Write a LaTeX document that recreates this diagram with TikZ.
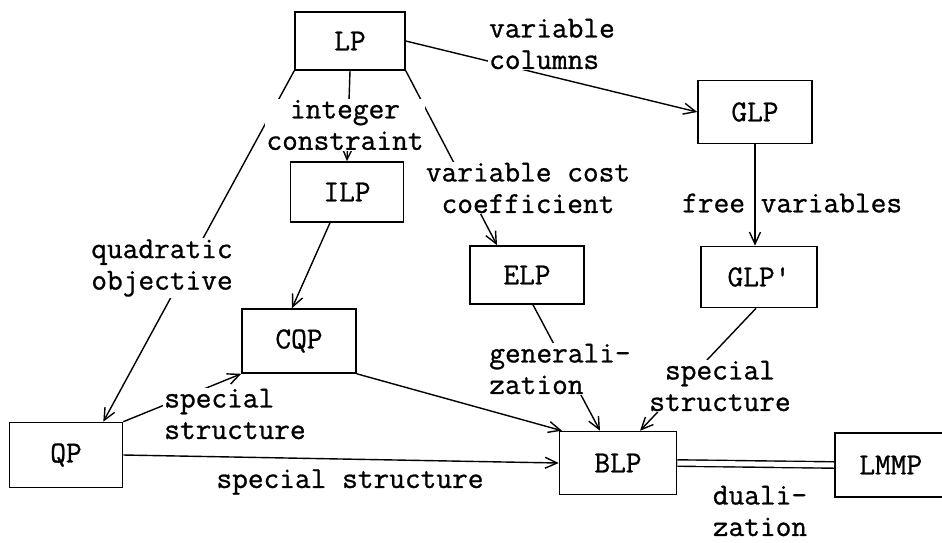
\documentclass[tikz,border=0pt]{standalone}
\usepackage{fontspec}
\newfontfamily\twfont{Latin Modern Mono}[RawFeature={embolden=0.9}]
\usetikzlibrary{arrows.meta}
\begin{document}
\begin{tikzpicture}[x=1pt,y=-1pt,
  every node/.style={font=\twfont\fontsize{30.5}{31.5}\selectfont},
  box/.style={draw,line width=1.6pt,minimum width=114pt,minimum height=61pt,inner sep=0pt},
  lbl/.style={fill=white,inner sep=1pt},
  con/.style={line width=1.4pt},
  arr/.style={con,-{Straight Barb[length=12pt,width=11pt,line width=1.4pt]}}]
\useasboundingbox (0,0) rectangle (942,542);
% boxes
\node[box,minimum width=110pt,minimum height=58pt] (LP) at (350,41) {LP};
\node[box,minimum height=63pt] (GLP) at (755,112) {GLP};
\node[box,minimum width=113pt,minimum height=60pt] (ILP) at (347,192) {ILP};
\node[box,minimum height=58pt] (ELP) at (527,275) {ELP};
\node[box,minimum width=116pt] (GLPp) at (759,277) {GLP'};
\node[box,minimum height=64pt] (CQP) at (299,341) {CQP};
\node[box,minimum width=113pt,minimum height=65pt] (QP) at (66,455) {QP};
\node[box,minimum width=117pt,minimum height=63pt] (BLP) at (618,463) {BLP};
\node[box,minimum width=124pt,minimum height=64pt,anchor=west] (LMMP) at (834,465) {LMMP\hspace*{12pt}};
% connectors
\draw[arr] (LP.east) -- (GLP.west);
\draw[arr] (LP.south) -- (ILP.north);
\draw[arr] (LP.south west) -- ([xshift=-20pt]QP.north east);
\draw[arr] (LP.south east) -- ([xshift=-30pt]ELP.north);
\draw[arr] (GLP.south) -- (GLPp.north -| GLP.south);
\draw[arr] ([xshift=-17pt]ILP.south) -- ([xshift=-7pt]CQP.north);
\draw[arr] (QP.north east) -- (CQP.south west);
\draw[arr] (CQP.south east) -- ([xshift=-56pt]BLP.north);
\draw[arr] (QP.east) -- (BLP.west);
\draw[arr] ([xshift=6pt]ELP.south) -- ([xshift=-18pt]BLP.north);
\draw[arr] ([xshift=-3pt]GLPp.south) -- ([xshift=22pt]BLP.north);
\draw[con,double,double distance=5pt] (BLP.east) -- (LMMP.west);
% labels
\node[lbl,align=left] (lcols) at (552,44) {variable\\columns};
\node[lbl,align=center] (lint) at (345,125) {integer\\constraint};
\node[lbl,align=center] (lcost) at (528,188) {variable cost\\coefficient};
\node[lbl,align=left] (lquad) at (162,268) {quadratic\\objective};
\node[lbl,align=left] (lss1) at (235,414) {special\\structure};
\node[lbl] (lss2) at (350,482) {special structure};
\node[lbl,align=left] (lgen) at (560,369) {generali-\\zation};
\node[lbl,align=center] (lss3) at (720,386) {special\\structure};
\node[lbl,align=left] (ldual) at (760,511) {duali-\\zation};
\node[inner sep=0pt,anchor=west] (lfree) at (682,203) {free variables};
\end{tikzpicture}
\end{document}
